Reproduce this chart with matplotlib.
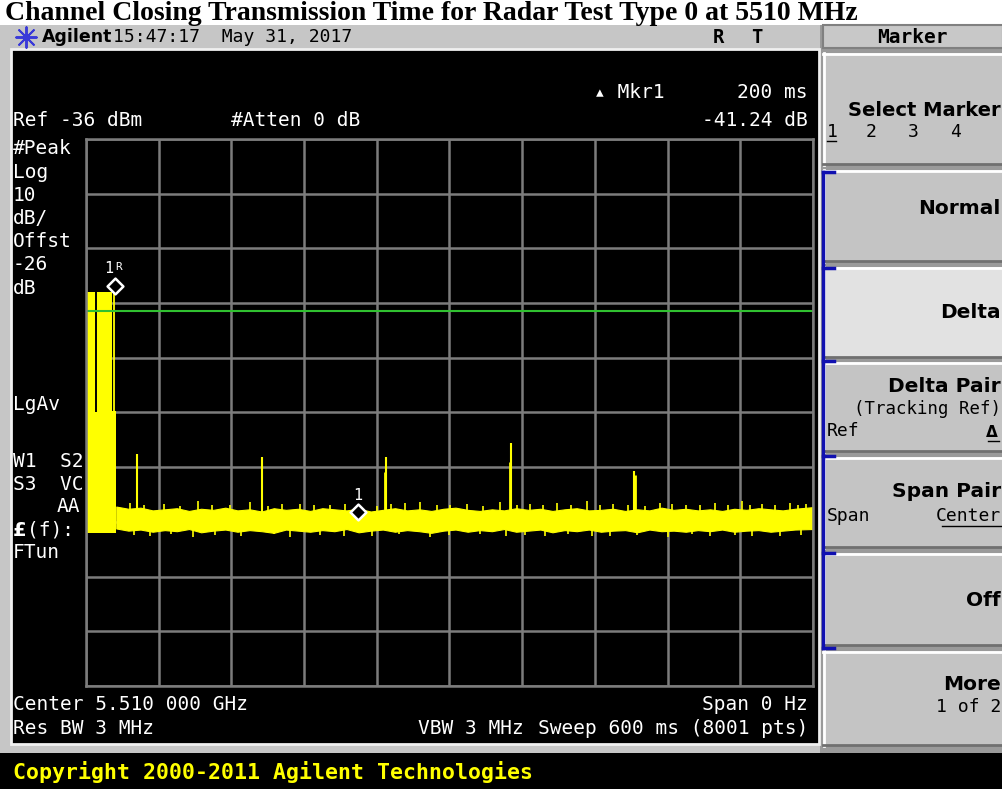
import numpy as np
import matplotlib.pyplot as plt
from matplotlib.patches import Rectangle

# ---- data (time in ms, level in dBm) ----
ref_level = -36.0
db_per_div = 10
sweep_ms = 600

burst_ms = [0.0, 21.7]          # full-height part of the burst
burst_foot_ms = [0.0, 24.6]     # lower shoulder of the burst
burst_top_dbm = -64.0
burst_foot_dbm = -85.8
burst_gap_ms = [8.2]            # dark notch inside the burst
burst_tail_ms = [22.9]          # thin line just after the notch
burst_tail_dbm = [-64.2]

noise_ms = [25, 35, 45, 55, 65, 75, 85, 95, 105, 115,
            125, 135, 145, 155, 165, 175, 185, 195, 205, 215,
            225, 235, 245, 255, 265, 275, 285, 295, 305, 315,
            325, 335, 345, 355, 365, 375, 385, 395, 405, 415,
            425, 435, 445, 455, 465, 475, 485, 495, 505, 515,
            525, 535, 545, 555, 565, 575, 585, 600]
noise_top = [-103.2, -103.6, -103.4, -103.9, -103.7, -103.5, -104.0, -103.6, -103.8, -103.4,
             -103.9, -103.7, -104.1, -103.5, -103.8, -103.6, -104.0, -103.5, -103.7, -103.9,
             -103.6, -104.1, -103.8, -103.5, -103.9, -103.7, -104.0, -103.6, -103.4, -103.8,
             -104.0, -103.7, -103.9, -103.5, -103.8, -103.6, -104.0, -103.7, -103.5, -103.9,
             -103.8, -103.6, -104.0, -103.7, -103.9, -103.4, -103.8, -103.6, -103.9, -103.7,
             -104.0, -103.6, -103.8, -103.5, -103.7, -103.9, -103.6, -103.3]
noise_bottom = [-107.2, -107.6, -107.4, -107.8, -107.5, -107.7, -107.3, -107.9, -107.6, -107.4,
                -107.8, -107.5, -107.7, -108.0, -107.4, -107.6, -107.8, -107.5, -107.7, -107.3,
                -107.9, -107.6, -107.4, -107.8, -107.5, -107.7, -108.0, -107.6, -107.4, -107.8,
                -107.5, -107.7, -107.3, -107.8, -107.6, -107.4, -107.9, -107.5, -107.7, -107.4,
                -107.8, -107.6, -107.5, -107.9, -107.4, -107.7, -107.6, -107.8, -107.5, -107.7,
                -107.4, -107.8, -107.6, -107.5, -107.8, -107.6, -107.4, -107.3]

grass_up_ms = [36.3, 48.0, 64.4, 77.5, 92.4, 104.0, 118.8, 135.4, 150.5, 162.0, 176.6, 188.0,
               201.4, 214.0, 240.0, 252.0, 263.3, 275.7, 289.7, 300.5, 314.4, 328.0, 341.7,
               356.0, 366.4, 377.0, 388.7, 400.0, 413.5, 424.0, 435.0, 447.0, 461.0, 473.7,
               484.0, 495.2, 507.0, 519.1, 530.0, 541.4, 548.0, 557.9, 569.0, 581.0, 588.0, 594.2]
grass_up_dbm = [-102.5, -103.0, -102.8, -103.1, -102.2, -102.9, -103.0, -102.4, -103.1, -102.8,
                -102.7, -103.0, -102.9, -102.7, -103.1, -102.8, -102.6, -102.3, -102.9, -103.0,
                -102.7, -103.1, -102.4, -102.9, -102.8, -103.0, -102.6, -102.9, -102.2, -103.0,
                -102.8, -102.9, -103.1, -102.5, -102.8, -102.9, -103.0, -102.6, -102.9, -102.1,
                -103.0, -102.8, -102.9, -102.5, -103.0, -102.7]
grass_dn_ms = [40.0, 52.8, 70.5, 88.0, 106.5, 128.0, 155.0, 168.4, 193.0, 213.0, 236.0, 258.0,
               283.9, 300.0, 325.2, 347.0, 362.0, 378.8, 398.0, 418.0, 432.5, 455.0, 480.3,
               500.0, 515.0, 535.6, 550.0, 572.8, 590.0]
grass_dn_dbm = [-108.4, -108.6, -108.3, -108.7, -108.4, -108.5, -108.3, -108.8, -108.4, -108.6,
                -108.5, -108.3, -108.7, -108.4, -108.3, -108.6, -108.4, -108.6, -108.3, -108.5,
                -108.5, -108.4, -108.8, -108.3, -108.5, -108.4, -108.6, -108.6, -108.4]

spur_ms = [42.1, 145.3, 247.6, 350.8, 452.3]
spur_dbm = [-93.5, -94.1, -94.1, -91.6, -96.7]
spur2_ms = [246.8, 350.0, 453.0]
spur2_dbm = [-96.9, -95.0, -97.5]

display_line_dbm = -67.4
marker_ms = [23.7, 224.5]
marker_dbm = [-64.0, -105.2]
marker_names = ['1', '1']

YEL = '#ffff00'
mono = 'DejaVu Sans Mono'

fig = plt.figure(figsize=(10.03, 7.89), dpi=100)
fig.patch.set_facecolor('white')

# pixel-space canvas for the instrument frame
bg = fig.add_axes([0, 0, 1, 1])
bg.set_xlim(0, 1003)
bg.set_ylim(789, 0)
bg.axis('off')

bg.text(5, 20, 'Channel Closing Transmission Time for Radar Test Type 0 at 5510 MHz',
        family='Liberation Serif', weight='bold', fontsize=20, va='baseline', ha='left',
        zorder=10)

# frame pieces
bg.add_patch(Rectangle((0, 25), 822, 729, color='#c6c6c6', lw=0))
bg.add_patch(Rectangle((820, 25), 183, 729, color='#9a9a9a', lw=0))
bg.add_patch(Rectangle((11, 49), 808, 695, facecolor='black', edgecolor='#f0f0f0', lw=2))
bg.add_patch(Rectangle((0, 753), 1003, 36, color='black', lw=0))

# top bar
bg.scatter([26], [37], marker=(8, 2, 0), s=220, color='#3a3ad8', lw=1.4)
bg.text(42, 37, 'Agilent', family='DejaVu Sans', weight='bold', fontsize=12.5, va='center')
bg.text(113, 37, '15:47:17  May 31, 2017', family=mono, fontsize=13, va='center')
bg.text(718, 37, 'R', family=mono, weight='bold', fontsize=13.5, va='center', ha='center')
bg.text(757, 37, 'T', family=mono, weight='bold', fontsize=13.5, va='center', ha='center')

# screen annotations
def st(x, y, s, ha='left', **kw):
    bg.text(x, y, s, color='white', family=mono, fontsize=14, va='center', ha=ha, **kw)

st(594, 92, '\u25b4 Mkr1')
st(808, 92, '200 ms', ha='right')
st(13, 120, 'Ref -36 dBm')
st(231, 120, '#Atten 0 dB')
st(808, 120, '-41.24 dB', ha='right')
left_lines = [('#Peak', 148), ('Log', 172), ('10', 195), ('dB/', 218), ('Offst', 241),
              ('-26', 265), ('dB', 288), ('LgAv', 404), ('W1  S2', 461), ('S3  VC', 484),
              ('FTun', 553)]
for s, y in left_lines:
    st(13, y, s)
st(80, 507, 'AA', ha='right')
bg.text(13, 530, '\u00a3', color='white', family='DejaVu Sans', weight='bold',
        fontsize=14, va='center')
st(27, 530, '(f):')
st(13, 705, 'Center 5.510 000 GHz')
st(808, 705, 'Span 0 Hz', ha='right')
st(13, 728, 'Res BW 3 MHz')
st(418, 728, 'VBW 3 MHz')
st(808, 728, 'Sweep 600 ms (8001 pts)', ha='right')

bg.text(13, 772, 'Copyright 2000-2011 Agilent Technologies', color=YEL, family=mono,
        weight='bold', fontsize=15.5, va='center')

# softkey panel
bg.add_patch(Rectangle((823, 25), 180, 23, facecolor='#c8c8c8', edgecolor='#808080', lw=1.5))
bg.text(912, 37, 'Marker', family=mono, weight='bold', fontsize=14, va='center', ha='center')
keys = [(53, 165, '#c4c4c4'), (170, 262, '#c4c4c4'), (267, 358, '#e2e2e2'), (362, 452, '#c4c4c4'),
        (457, 548, '#c4c4c4'), (553, 646, '#c4c4c4'), (651, 746, '#c4c4c4')]
for y0, y1, fc in keys:
    bg.add_patch(Rectangle((823, y0), 182, y1 - y0, facecolor=fc, edgecolor='none'))
    bg.plot([823, 1003], [y0 + 1, y0 + 1], color='white', lw=2)
    bg.plot([824, 824], [y0, y1], color='white', lw=2)
    bg.plot([823, 1003], [y1 - 1, y1 - 1], color='#707070', lw=2)

def kt(x, y, s, ha='right', bold=True, size=14.5):
    bg.text(x, y, s, family='DejaVu Sans' if bold else mono, weight='bold' if bold else 'normal',
            fontsize=size, va='center', ha=ha, color='black')

kt(1001, 110, 'Select Marker', size=14)
for x, s in zip([827, 866, 908, 950], ['1', '2', '3', '4']):
    bg.text(x, 132, s, family=mono, fontsize=13, va='center', color='black')
bg.plot([827, 836], [141, 141], color='black', lw=1)
kt(1001, 208, 'Normal')
kt(1001, 312, 'Delta')
kt(1001, 386, 'Delta Pair')
kt(1001, 409, '(Tracking Ref)', bold=False, size=12.5)
kt(827, 431, 'Ref', ha='left', bold=False, size=13)
kt(998, 432, '\u0394', bold=True, size=11)
bg.plot([988, 999], [441, 441], color='black', lw=1)
kt(1001, 491, 'Span Pair')
kt(827, 516, 'Span', ha='left', bold=False, size=13)
kt(1001, 516, 'Center', bold=False, size=13)
bg.plot([942, 1001], [526, 526], color='black', lw=1)
kt(1001, 601, 'Off')
kt(1001, 685, 'More')
kt(1001, 707, '1 of 2', bold=False, size=13)

# blue bracket on the softkeys
ticks_y = [172, 268, 361, 456, 553, 648]
bg.plot([823, 823], [ticks_y[0], ticks_y[-1]], color='#1010b0', lw=2.5)
for y in ticks_y:
    bg.plot([823, 834], [y, y], color='#1010b0', lw=2.5)

# ---- measurement graticule ----
ax = fig.add_axes([86 / 1003, 103 / 789, 727 / 1003, 547 / 789])
ax.set_facecolor('none')
ax.set_zorder(3)
ax.set_xlim(0, sweep_ms)
ax.set_ylim(ref_level - 10 * db_per_div, ref_level)
ax.set_xticks(np.linspace(0, sweep_ms, 11))
ax.set_yticks(np.linspace(ref_level - 10 * db_per_div, ref_level, 11))
ax.grid(color='#7c7c7c', lw=1.8)
ax.tick_params(length=0, labelbottom=False, labelleft=False)
for sp in ax.spines.values():
    sp.set_color('#7c7c7c')
    sp.set_linewidth(1.8)
ax.set_axisbelow(True)

# burst
ax.fill_between(burst_foot_ms, min(noise_bottom), burst_foot_dbm, color=YEL, lw=0)
ax.fill_between(burst_ms, burst_foot_dbm, burst_top_dbm, color=YEL, lw=0)
ax.vlines(burst_tail_ms, burst_foot_dbm, burst_tail_dbm, color=YEL, lw=1.3)
ax.vlines(burst_gap_ms, burst_foot_dbm - 0.2, burst_top_dbm, color='black', lw=1.4)

# noise floor
ax.fill_between(noise_ms, noise_bottom, noise_top, color=YEL, lw=0.8, edgecolor=YEL)
ax.vlines(grass_up_ms, -105.0, grass_up_dbm, color=YEL, lw=1.2)
ax.vlines(grass_dn_ms, grass_dn_dbm, -106.0, color=YEL, lw=1.2)
ax.vlines(spur_ms, -105.0, spur_dbm, color=YEL, lw=1.5)
ax.vlines(spur2_ms, -105.0, spur2_dbm, color=YEL, lw=2.0)

# display line
ax.axhline(display_line_dbm, color='#30c030', lw=1.5)

# markers (diamond sits just above the trace point)
ax.scatter(marker_ms, [v + 1.1 for v in marker_dbm], marker='D', s=65,
           facecolor='black', edgecolor='white', lw=1.8, zorder=5)
ax.text(marker_ms[0] - 1.0, marker_dbm[0] + 4.3, marker_names[0], color='white',
        family=mono, fontsize=11, ha='right', va='center')
ax.text(marker_ms[0] + 0.5, marker_dbm[0] + 4.6, 'R', color='white',
        family=mono, fontsize=8, ha='left', va='center')
ax.text(marker_ms[1], marker_dbm[1] + 4.0, marker_names[1], color='white',
        family=mono, fontsize=11, ha='center', va='center')

fig.savefig('out.png', dpi=100)
